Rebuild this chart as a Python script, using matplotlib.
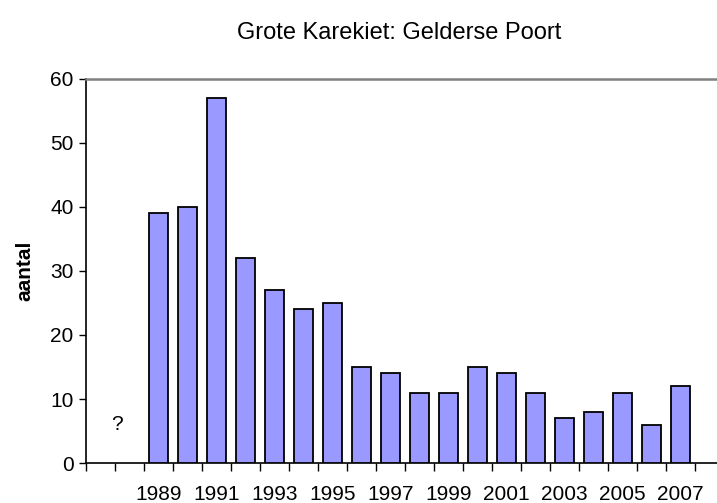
import matplotlib
matplotlib.use("Agg")
import matplotlib.pyplot as plt
import numpy as np

plt.rcParams['font.family'] = ['Liberation Sans', 'DejaVu Sans']

# Territory counts per year; 1987 and 1988 were not surveyed
years = list(range(1987, 2008))
counts = [None, None, 39, 40, 57, 32, 27, 24, 25, 15, 14, 11, 11, 15, 14, 11, 7, 8, 11, 6, 12]
label_years = [y for y in years if y % 2 == 1 and y >= 1989]

title = "Grote Karekiet: Gelderse Poort"
ylabel = "aantal"
bar_color = "#9999FF"

fig = plt.figure(figsize=(7.17, 5.03), dpi=100)
ax = fig.add_axes([0.1199, 0.0795, 0.8899, 0.7635])

x = np.arange(len(years))
vals = [np.nan if v is None else v for v in counts]
ax.bar(x, vals, width=0.67, color=bar_color, edgecolor="black", linewidth=1.3, zorder=3)

ax.set_xlim(-0.5, len(years) + 0.5)
ax.set_ylim(0, 60)
ax.set_yticks(np.arange(0, 61, 10))
ax.tick_params(axis='y', direction='out', length=5, width=1, labelsize=15, pad=4)

# category labels at bar centres, tick marks at category boundaries
ax.set_xticks([years.index(y) for y in label_years])
ax.set_xticklabels([str(y) for y in label_years])
ax.set_xticks(np.arange(-0.5, len(years) + 0.5, 1), minor=True)
ax.tick_params(axis='x', which='major', length=0, labelsize=15, pad=15.5)
ax.tick_params(axis='x', which='minor', direction='out', length=6, width=1)

for side in ('left', 'bottom'):
    ax.spines[side].set_color('black')
    ax.spines[side].set_linewidth(1.2)
ax.spines['top'].set_color('#808080')
ax.spines['top'].set_linewidth(1.8)
ax.spines['right'].set_visible(False)

ax.text(0.57, 6, "?", ha='center', va='center', fontsize=15)

ax.set_ylabel(ylabel, fontsize=15, fontweight='bold', labelpad=11)
fig.text(399 / 717, 1 - 33 / 503, title, ha='center', va='center', fontsize=17)

fig.savefig("out.png", dpi=100)
